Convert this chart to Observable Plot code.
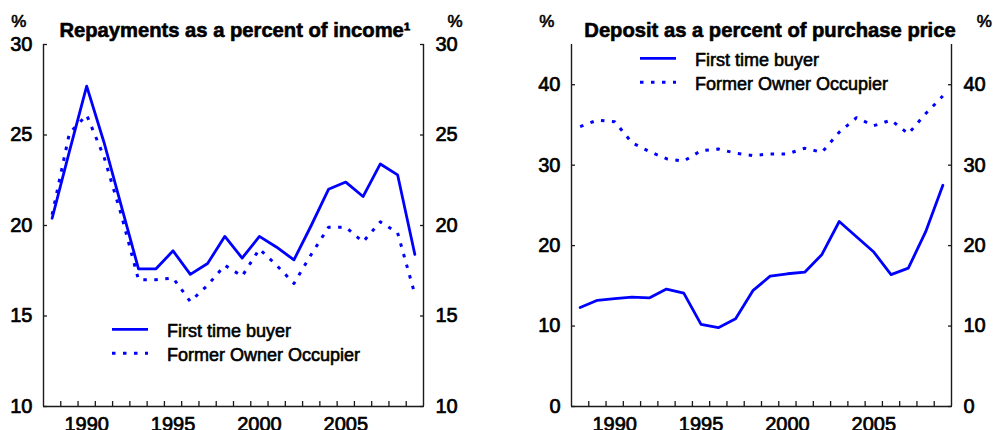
<!DOCTYPE html>
<html><head><meta charset="utf-8">
<script src="https://cdn.jsdelivr.net/npm/d3@7"></script>
<script src="https://cdn.jsdelivr.net/npm/@observablehq/plot@0.6"></script>
<style>
html,body{margin:0;padding:0;background:#fff;}
#wrap{display:flex;width:993px;height:430px;overflow:hidden;}
#wrap svg{font-family:"Liberation Sans",Arial,sans-serif;color:#000;display:block;}
</style></head><body><div id="wrap"></div>
<script>
const years = [1988,1989,1990,1991,1992,1993,1994,1995,1996,1997,1998,1999,2000,2001,2002,2003,2004,2005,2006,2007,2008,2009];
const xLabels = [1990,1995,2000,2005];
const seriesNames = ["First time buyer","Former Owner Occupier"];

const repayTitle = "Repayments as a percent of income\u00b9";
const repayTicks = [10,15,20,25,30];
const repayFirst  = [20.4,24.1,27.7,24.6,21.1,17.6,17.6,18.6,17.3,17.9,19.4,18.2,19.4,18.8,18.1,20.0,22.0,22.4,21.6,23.4,22.8,18.4];
const repayFormer = [20.6,25.1,26.1,23.8,20.6,17.0,17.0,17.1,15.8,16.7,17.8,17.2,18.7,17.8,16.8,18.4,19.9,19.9,19.1,20.2,19.6,16.2];

const depositTitle = "Deposit as a percent of purchase price";
const depositTicks = [0,10,20,30,40];
const depositFirst  = [12.3,13.2,13.4,13.6,13.5,14.6,14.1,10.2,9.8,10.9,14.4,16.2,16.5,16.7,18.9,23.0,21.1,19.2,16.4,17.2,21.7,27.5];
const depositFormer = [34.8,35.6,35.4,32.8,31.7,30.8,30.5,31.8,32.0,31.5,31.2,31.4,31.4,32.1,31.6,34.1,35.9,34.9,35.6,33.9,36.4,38.6];

const BLUE = "#0000ff";
const AXIS = "#1a1a1a";
const DASH = "3.5,7.5";
const TXT = {fontSize: 20, label: null, fill: "#000", textStroke: "#000", textStrokeWidth: 0.7};

function panel(cfg) {
  const xDomain = [years[0] - 0.5, years[years.length - 1] + 0.5];
  const bounds = years.slice(1).map(y => y - 0.5);
  const rows1 = years.map((yr, i) => ({year: yr, v: cfg.first[i]}));
  const rows2 = years.map((yr, i) => ({year: yr, v: cfg.former[i]}));
  const chart = Plot.plot({
    width: cfg.width, height: 430,
    marginTop: 44, marginBottom: 24, marginLeft: cfg.ml, marginRight: cfg.mr,
    style: {fontFamily: '"Liberation Sans", Arial, sans-serif', color: "#000", background: "#fff"},
    x: {domain: xDomain},
    y: {domain: cfg.yDomain},
    marks: [
      Plot.ruleX(xDomain, {stroke: AXIS, strokeWidth: 1.4}),
      Plot.ruleY([cfg.yDomain[0]], {stroke: AXIS, strokeWidth: 1.4}),
      Plot.axisY(cfg.ticks, {anchor: "left", tickSize: 0, tickPadding: 11, ...TXT}),
      Plot.axisY(cfg.ticks, {anchor: "left", tickSize: 4, dx: 4, fill: "none", label: null, stroke: AXIS, strokeWidth: 1.3}),
      Plot.axisY(cfg.ticks, {anchor: "right", tickSize: 0, tickPadding: 12, ...TXT}),
      Plot.axisY(cfg.ticks, {anchor: "right", tickSize: 4, dx: -4, fill: "none", label: null, stroke: AXIS, strokeWidth: 1.3}),
      Plot.axisX(xLabels, {anchor: "bottom", tickSize: 0, tickPadding: 10, tickFormat: d => String(d), ...TXT}),
      Plot.axisX(bounds, {anchor: "bottom", tickSize: 5, dy: -5, fill: "none", label: null, stroke: AXIS, strokeWidth: 1.3}),
      Plot.lineY(rows2, {x: "year", y: "v", stroke: BLUE, strokeWidth: 3, strokeDasharray: DASH, strokeLinecap: "butt"}),
      Plot.lineY(rows1, {x: "year", y: "v", stroke: BLUE, strokeWidth: 2.8})
    ]
  });
  const svg = d3.select(chart);
  const g = svg.append("g").attr("font-family", '"Liberation Sans", Arial, sans-serif').attr("fill", "#000");
  g.append("text").attr("x", cfg.titleX).attr("y", 36.7).attr("text-anchor", "middle")
    .attr("font-size", 20.2).attr("font-weight", "bold")
    .attr("stroke", "#000").attr("stroke-width", 0.6).attr("paint-order", "stroke").attr("stroke-linejoin", "round")
    .text(cfg.title);
  const reg = sel => sel.attr("stroke", "#000").attr("stroke-width", 0.6).attr("paint-order", "stroke").attr("stroke-linejoin", "round");
  g.append("text").attr("x", cfg.pctL).attr("y", 26.7).attr("text-anchor", "middle").attr("font-size", 17).call(reg).text("%");
  g.append("text").attr("x", cfg.pctR).attr("y", 26.7).attr("text-anchor", "middle").attr("font-size", 17).call(reg).text("%");
  // legend
  const L = cfg.legend;
  g.append("line").attr("x1", L.x).attr("x2", L.x + 36).attr("y1", L.y).attr("y2", L.y)
    .attr("stroke", BLUE).attr("stroke-width", 2.8);
  g.append("line").attr("x1", L.x).attr("x2", L.x + 36).attr("y1", L.y + 24).attr("y2", L.y + 24)
    .attr("stroke", BLUE).attr("stroke-width", 3).attr("stroke-dasharray", DASH);
  g.append("text").attr("x", L.x + 55).attr("y", L.y + 7.5).attr("text-anchor", "start").attr("font-size", 18).call(reg).text(seriesNames[0]);
  g.append("text").attr("x", L.x + 55).attr("y", L.y + 31.5).attr("text-anchor", "start").attr("font-size", 18).call(reg).text(seriesNames[1]);
  return chart;
}

const wrap = document.getElementById("wrap");
wrap.appendChild(panel({
  width: 496, ml: 43, mr: 73, yDomain: [10, 30], ticks: repayTicks,
  first: repayFirst, former: repayFormer, title: repayTitle, titleX: 235,
  pctL: 18.7, pctR: 455, legend: {x: 112, y: 329.3}
}));
wrap.appendChild(panel({
  width: 497, ml: 75, mr: 42, yDomain: [0, 45], ticks: depositTicks,
  first: depositFirst, former: depositFormer, title: depositTitle, titleX: 274,
  pctL: 50.7, pctR: 488.3, legend: {x: 144, y: 58.3}
}));
</script>
</body></html>
